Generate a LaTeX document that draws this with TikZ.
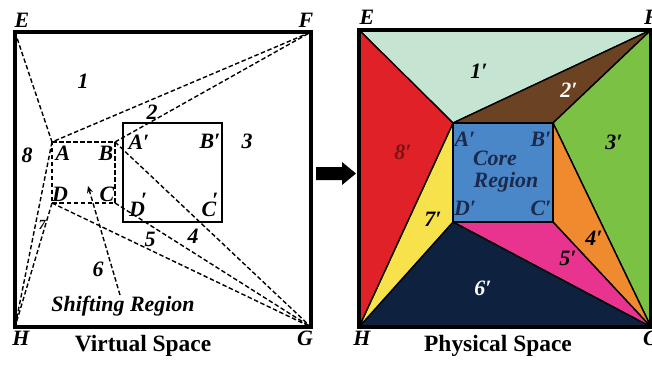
\documentclass[tikz,border=0pt]{standalone}
\usepackage{fontspec}
\setmainfont{Liberation Serif}
\usetikzlibrary{arrows.meta}
\definecolor{cmint}{HTML}{C6E4D2}
\definecolor{cbrown}{HTML}{6B4322}
\definecolor{cgreen}{HTML}{7BC143}
\definecolor{corange}{HTML}{F08A2E}
\definecolor{cmagenta}{HTML}{E8338F}
\definecolor{cnavy}{HTML}{0E2240}
\definecolor{cyellow}{HTML}{F8E24C}
\definecolor{cred}{HTML}{E02228}
\definecolor{cblue}{HTML}{4A87C9}
\definecolor{ctext}{HTML}{1B2A4C}
\tikzset{
  lbl/.style={font=\bfseries\itshape\fontsize{22}{22}\selectfont, inner sep=0pt},
  smalllbl/.style={font=\bfseries\itshape\fontsize{14}{14}\selectfont, inner sep=0pt},
  title/.style={font=\bfseries\fontsize{23.5}{23.5}\selectfont, inner sep=0pt},
  border/.style={line width=3.2bp},
  dline/.style={line width=1.4bp, dash pattern=on 4.5bp off 2.5bp},
  region/.style={draw=black, line width=1.4bp, line join=round},
}
\newcommand{\hiprime}[1]{#1\kern-4bp\raisebox{9bp}{′}}
\begin{document}
\begin{tikzpicture}[x=1bp,y=-1bp]
\useasboundingbox (0,0) rectangle (652,365);
% ---------- Virtual space ----------
\coordinate (E) at (15,32);
\coordinate (F) at (311,32);
\coordinate (G) at (311,327);
\coordinate (H) at (15,327);
\coordinate (A) at (52,142);
\coordinate (B) at (115,142);
\coordinate (C) at (115,203);
\coordinate (D) at (52,203);
\coordinate (Ap) at (123,123);
\coordinate (Bp) at (222,123);
\coordinate (Cp) at (222,222);
\coordinate (Dp) at (123,222);

\draw[dline] (A) -- (B) -- (C) -- (D) -- cycle;
\draw[dline] (E) -- (A) -- (F);
\draw[dline] (B) -- (F);
\draw[dline] (B) -- (G);
\draw[dline] (C) -- (G);
\draw[dline] (D) -- (G);
\draw[dline] (A) -- (H);
\draw[dline] (D) -- (H);
\draw[line width=2.4bp] (Ap) rectangle (Cp);
\draw[border] (E) rectangle (G);

\coordinate (arrs) at (120,295);
\coordinate (arre) at (88,186);
\draw[dline, -{Stealth[length=7bp,width=6bp]}] (arrs) -- (arre);

\node[lbl] (lE) at (22,20) {E};
\node[lbl] (lF) at (306,20) {F};
\node[lbl] (lH) at (21,338) {H};
\node[lbl] (lG) at (305,338) {G};
\node[title] (vs) at (143,346) {Virtual Space};
\node[lbl] (n1) at (83,81) {1};
\node[lbl] (n2) at (152,112) {2};
\node[lbl] (n3) at (247,141) {3};
\node[lbl] (n8) at (27,155) {8};
\node[lbl] (n4) at (193,236) {4};
\node[lbl] (n5) at (150,239) {5};
\node[lbl] (n6) at (98,269) {6};
\node[smalllbl] (n7) at (42,225) {7};
\node[lbl] (sr) at (123,306) {Shifting Region};
\node[lbl] (la) at (63,153) {A};
\node[lbl] (lb) at (106,153) {B};
\node[lbl] (lc) at (107,194) {C};
\node[lbl] (ld) at (60,194) {D};
\node[lbl] (lap) at (139,142) {A′};
\node[lbl] (lbp) at (210,141) {B′};
\node[lbl, anchor=base] (ldp) at (138,216) {\hiprime{D}};
\node[lbl, anchor=base] (lcp) at (210,216) {\hiprime{C}};

% ---------- arrow ----------
\coordinate (ar1) at (316,167);
\coordinate (ar2) at (342,167);
\coordinate (ar3) at (342,162);
\coordinate (ar4) at (356,173.5);
\coordinate (ar5) at (342,185);
\coordinate (ar6) at (342,180);
\coordinate (ar7) at (316,180);
\fill[black] (ar1) -- (ar2) -- (ar3) -- (ar4) -- (ar5) -- (ar6) -- (ar7) -- cycle;

% ---------- Physical space ----------
\coordinate (PE) at (359,30);
\coordinate (PF) at (651,30);
\coordinate (PG) at (651,327);
\coordinate (PH) at (359,327);
\coordinate (PA) at (453,123);
\coordinate (PB) at (553,123);
\coordinate (PC) at (553,222);
\coordinate (PD) at (453,222);

\filldraw[region, fill=cmint] (PE) -- (PF) -- (PA) -- cycle;
\filldraw[region, fill=cbrown] (PA) -- (PF) -- (PB) -- cycle;
\filldraw[region, fill=cgreen] (PF) -- (PG) -- (PB) -- cycle;
\filldraw[region, fill=corange] (PB) -- (PG) -- (PC) -- cycle;
\filldraw[region, fill=cmagenta] (PC) -- (PG) -- (PD) -- cycle;
\filldraw[region, fill=cnavy] (PD) -- (PG) -- (PH) -- cycle;
\filldraw[region, fill=cyellow] (PA) -- (PD) -- (PH) -- cycle;
\filldraw[region, fill=cred] (PE) -- (PA) -- (PH) -- cycle;
\filldraw[region, fill=cblue] (PA) rectangle (PC);
\draw[border] (PE) rectangle (PG);

\node[lbl] (pE) at (367,17) {E};
\node[lbl, anchor=west] (pF) at (644,17) {F};
\node[lbl] (pH) at (362,338) {H};
\node[lbl, anchor=west] (pG) at (643,338) {G};
\node[title] (ps) at (498,346) {Physical Space};
\node[lbl] (p1) at (479,71) {1′};
\node[lbl, white] (p2) at (569,90) {2′};
\node[lbl] (p3) at (614,142) {3′};
\node[lbl, cred!55!black] (p8) at (403,152) {8′};
\node[lbl] (p7) at (433,219) {7′};
\node[lbl] (p4) at (594,238) {4′};
\node[lbl] (p5) at (568,258) {5′};
\node[lbl, white] (p6) at (483,288) {6′};
\node[lbl, ctext] (core1) at (495,158) {Core};
\node[lbl, ctext] (core2) at (506,182) {Region};
\node[lbl, ctext] (pa) at (465,139) {A′};
\node[lbl, ctext] (pb) at (541,139) {B′};
\node[lbl, ctext] (pd) at (465,208) {D′};
\node[lbl, ctext] (pc) at (541,208) {C′};
\end{tikzpicture}
\end{document}
